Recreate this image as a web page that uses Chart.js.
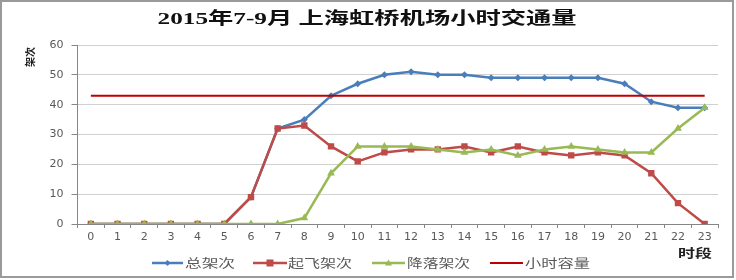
<!DOCTYPE html>
<html>
<head>
<meta charset="utf-8">
<script src="https://cdn.jsdelivr.net/npm/chart.js@4"></script>
<style>
html,body{margin:0;padding:0;background:#fff;}
#wrap{width:736px;height:280px;position:relative;}
</style>
</head>
<body>
<div id="wrap"><canvas id="c" width="736" height="280"></canvas></div>
<script>
const chartTitle = '2015年7-9月 上海虹桥机场小时交通量';
const yAxisTitle = '架次';
const xAxisTitle = '时段';
const hours = ['0','1','2','3','4','5','6','7','8','9','10','11','12','13','14','15','16','17','18','19','20','21','22','23'];
const seriesNames = ['总架次','起飞架次','降落架次','小时容量'];
const totalFlights   = [0,0,0,0,0,0,9,32,35,43,47,50,51,50,50,49,49,49,49,49,47,41,39,39];
const departures     = [0,0,0,0,0,0,9,32,33,26,21,24,25,25,26,24,26,24,23,24,23,17,7,0];
const arrivals       = [0,0,0,0,0,0,0,0,2,17,26,26,26,25,24,25,23,25,26,25,24,24,32,39];
const hourlyCapacity = [43,43,43,43,43,43,43,43,43,43,43,43,43,43,43,43,43,43,43,43,43,43,43,43];
const yTicks = [0,10,20,30,40,50,60];

const BLUE='#4A7EBB', RED='#BE4B48', GREEN='#98B954', DARKRED='#C00000';
const TXT='#595959', AXIS='#868686', GRID='#D0D0D0';

function stretchedText(ctx, text, x, y, targetW, font, color, align){
  ctx.save();
  ctx.font = font;
  ctx.fillStyle = color;
  ctx.textBaseline = 'middle';
  ctx.textAlign = 'left';
  const w = ctx.measureText(text).width;
  const s = targetW / w;
  let x0 = x;
  if (align === 'center') x0 = x - targetW/2;
  ctx.translate(x0, y);
  ctx.scale(s, 1);
  ctx.fillText(text, 0, 0);
  ctx.restore();
}

const decor = {
  id:'decor',
  afterDraw(chart){
    const ctx = chart.ctx;
    // frame
    ctx.save();
    ctx.strokeStyle = '#9A9A9A';
    ctx.lineWidth = 2;
    ctx.strokeRect(1, 1, 732, 276);
    ctx.restore();
    // title
    stretchedText(ctx, chartTitle, 367, 20, 419, 'bold 17px "Liberation Serif", "Noto Sans CJK SC"', '#111', 'center');
    // y axis title (rotated, reads bottom to top)
    ctx.save();
    ctx.translate(30, 57);
    ctx.rotate(-Math.PI/2);
    ctx.font = 'bold 10px "Noto Sans CJK SC"';
    ctx.fillStyle = '#222';
    ctx.textAlign = 'center';
    ctx.textBaseline = 'middle';
    ctx.fillText(yAxisTitle, 0, 0);
    ctx.restore();
    // x axis title
    stretchedText(ctx, xAxisTitle, 678, 253, 34, 'bold 12px "Noto Sans CJK SC"', '#222', 'left');
    // legend
    const items = [
      {x0:152, x1:183, tx:185, tw:50},
      {x0:253, x1:287, tx:288, tw:64},
      {x0:372, x1:405, tx:407, tw:63},
      {x0:490, x1:523, tx:525, tw:65}
    ];
    const ly = 263;
    chart.data.datasets.forEach((ds, i) => {
      const it = items[i];
      ctx.save();
      ctx.strokeStyle = ds.borderColor;
      ctx.lineWidth = ds.borderWidth;
      ctx.beginPath();
      ctx.moveTo(it.x0, ly); ctx.lineTo(it.x1, ly);
      ctx.stroke();
      const cx = (it.x0 + it.x1)/2;
      ctx.fillStyle = ds.borderColor;
      if (ds.pointStyle === 'rectRot') {
        ctx.beginPath();
        ctx.moveTo(cx, ly-3); ctx.lineTo(cx+3, ly); ctx.lineTo(cx, ly+3); ctx.lineTo(cx-3, ly); ctx.closePath(); ctx.fill();
      } else if (ds.pointStyle === 'rect') {
        ctx.fillRect(cx-3.5, ly-3.5, 7, 7);
      } else if (ds.pointStyle === 'triangle') {
        ctx.beginPath();
        ctx.moveTo(cx, ly-3.5); ctx.lineTo(cx+3.5, ly+2.5); ctx.lineTo(cx-3.5, ly+2.5); ctx.closePath(); ctx.fill();
      }
      ctx.restore();
      stretchedText(ctx, ds.label, it.tx, ly, it.tw, '12px "Noto Sans CJK SC"', TXT, 'left');
    });
  }
};

new Chart(document.getElementById('c'), {
  type:'line',
  data:{
    labels: hours,
    datasets:[
      {label:seriesNames[0], data:totalFlights, borderColor:BLUE, backgroundColor:BLUE, borderWidth:2.5,
       pointStyle:'rectRot', pointRadius:3.5, pointBorderWidth:0, order:4, tension:0},
      {label:seriesNames[1], data:departures, borderColor:RED, backgroundColor:RED, borderWidth:2.5,
       pointStyle:'rect', pointRadius:4.5, pointBorderWidth:0, order:3, tension:0},
      {label:seriesNames[2], data:arrivals, borderColor:GREEN, backgroundColor:GREEN, borderWidth:2.5,
       pointStyle:'triangle', pointRadius:4.5, pointBorderWidth:0, order:2, tension:0},
      {label:seriesNames[3], data:hourlyCapacity, borderColor:DARKRED, backgroundColor:DARKRED, borderWidth:2,
       pointRadius:0, order:1, tension:0}
    ]
  },
  options:{
    responsive:false,
    animation:false,
    devicePixelRatio:1,
    layout:{padding:{left:0, right:18, top:45, bottom:0}},
    plugins:{legend:{display:false}, title:{display:false}, tooltip:{enabled:false}},
    scales:{
      x:{
        type:'category',
        offset:true,
        grid:{display:true, offset:true, drawOnChartArea:false, drawTicks:true, tickLength:4, tickColor:AXIS},
        border:{display:true, color:AXIS, width:1},
        ticks:{color:TXT, font:{family:'"DejaVu Sans"', size:11}, padding:3, maxRotation:0, autoSkip:false},
        afterFit(s){ s.height = 56; }
      },
      y:{
        min:0, max:60,
        afterBuildTicks(s){ s.ticks = yTicks.map(v => ({value:v})); },
        grid:{color:GRID, lineWidth:1, drawTicks:true, tickLength:6, tickColor:AXIS},
        border:{display:true, color:AXIS, width:1},
        ticks:{color:TXT, font:{family:'"DejaVu Sans"', size:11}, padding:8},
        afterFit(s){ s.width = 77.5; }
      }
    }
  },
  plugins:[decor]
});
</script>
</body>
</html>
